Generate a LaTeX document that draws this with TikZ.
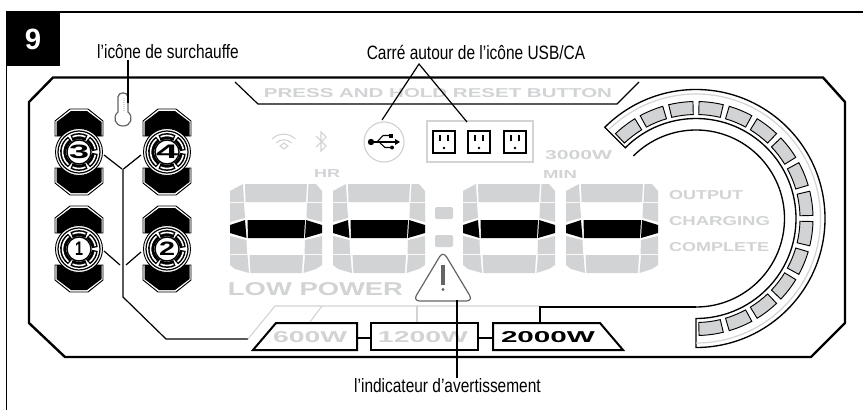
\documentclass[tikz,border=0pt]{standalone}
\usepackage{fontspec}
\setmainfont{Liberation Sans}
\newfontfamily\labelfont[FakeStretch=0.8]{Liberation Sans}
\newfontfamily\lcdfont{Liberation Sans}
\newdimen\unitpx \unitpx=0.75pt
\newcommand{\lcd}[3]{\resizebox{#1\unitpx}{#2\unitpx}{\lcdfont\bfseries #3}}
\definecolor{lcdgray}{RGB}{209,211,212}
\definecolor{iconedge}{RGB}{100,100,100}

\tikzset{every picture/.style={line width=0.75pt}}
\tikzset{
  panelline/.style={line width=1.8pt,line join=miter},
  boxline/.style={line width=1.5pt,line join=miter},
  thinline/.style={line width=0.9pt},
  grayline/.style={line width=0.8pt,draw=lcdgray},
  seglit/.style={fill=lcdgray,draw=none},
  segdark/.style={fill=black,draw=none},
  lcdtext/.style={inner sep=0pt,text=lcdgray},
  caption/.style={inner sep=0pt,font=\labelfont\fontsize{14.5}{16}\selectfont}
}

% one knob with its two caps and the number in the middle
\newcommand{\knob}[4]{%
  \begin{scope}[shift={(#2,#3)}]
    \foreach \s in {1,-1} {
      \draw [line width=0.7pt,fill=white,yscale=\s] (-9,-43) -- (9,-43) -- (24,-31) -- (24,-16) -- (-24,-16) -- (-24,-31) -- cycle ;
      \fill [yscale=\s] (-8,-41) -- (8,-41) -- (22.5,-30) -- (22.5,-16) -- (-22.5,-16) -- (-22.5,-30) -- cycle ;
    }
    \draw [line width=0.7pt,fill=white] (0,0) circle [radius=23.5] ;
    \draw [line width=0.9pt,fill=white] (0,0) circle [radius=21] ;
    \foreach \a/\b in {5/55,62/118,125/235,242/298,305/355} {
      \draw [line width=4.6pt] (\a:15.8) arc [start angle=\a,end angle=\b,radius=15.8] ;
      \draw [line width=1.2pt,draw=white] (\a+5:16.5) arc [start angle=\a+5,end angle=\b-5,radius=16.5] ;
    }
    \draw [line width=1pt,fill=white] (0,0) circle [radius=12] ;
    \node (#1) [inner sep=0pt] at (0,0) {\resizebox{#4\unitpx}{13.5\unitpx}{\bfseries\lcdfont #1}} ;
  \end{scope}
}

% one outlet
\newcommand{\outlet}[1]{%
  \begin{scope}[shift={(#1,142)}]
    \draw [line width=0.9pt,fill=white] (-11,-11) rectangle (11,11) ;
    \draw [line width=1.1pt] (-4,-7) -- (-4,-1) ;
    \draw [line width=1.1pt] (4,-7) -- (4,-1) ;
    \fill (0,6) circle [radius=1.3] ;
  \end{scope}
}

\begin{document}
\begin{tikzpicture}[x=0.75pt,y=0.75pt,yscale=-1,xscale=1]
\useasboundingbox (0,0) rectangle (863,410);

%Frame
\draw [line width=0.8pt]   (863,12) -- (6.5,12) -- (6.5,410) ;
\fill (6,12) rectangle (60,66) ;
\node (nine) [inner sep=0pt,text=white,font=\bfseries\fontsize{22}{22}\selectfont] at (33,39) {9};

%Shape: Panel
\draw [panelline]  (29,102) -- (53,77.5) -- (823,77.5) -- (845,102) -- (845,323) -- (811,357) -- (65,357) -- (29,323) -- cycle ;
%Straight Lines: reset bar
\draw [thinline]  (235,82) -- (258,104) -- (617,104) -- (639,82) ;
\node (reset) [lcdtext] at (438,93) {\lcd{348}{9}{PRESS AND HOLD RESET BUTTON}};

%Knobs
\knob{3}{79}{152}{20}
\knob{4}{167}{152}{22}
\knob{1}{79}{249}{8}
\knob{2}{167}{249}{16}

%Straight Lines: knob wiring
\draw [thinline]  (104,155) -- (122,169) ;
\draw [thinline]  (141,155) -- (123.5,169) ;
\draw [thinline]  (123,169) -- (123,297) -- (166,339) -- (248,339) ;
\draw [thinline]  (104,251) -- (120,265) ;
\draw [thinline]  (141,252) -- (126,265) ;

%Shape: Thermometer
\draw [line width=0.9pt,draw=iconedge,fill=white]  (118,112) -- (118,97) .. controls (118,91.5) and (128,91.5) .. (128,97) -- (128,112) .. controls (134,117) and (131,126) .. (123,126) .. controls (115,126) and (112,117) .. (118,112) -- cycle ;
\draw [line width=1pt,draw=lcdgray,dash pattern={on 0.6pt off 0.9pt}]  (124,98) -- (124,111) ;

%Wifi and bluetooth
\draw [line width=0.8pt,draw=lcdgray] (272,139) arc [start angle=-135,end angle=-45,radius=16.5] ;
\draw [line width=0.8pt,draw=lcdgray] (276,143) arc [start angle=-135,end angle=-45,radius=11] ;
\draw [line width=0.8pt,draw=lcdgray] (280,146) -- (284,143) -- (288,146) -- (284,149) -- cycle ;
\draw [line width=0.8pt,draw=lcdgray] (316,136) -- (326,146) -- (321,151) -- (321,132) -- (326,137) -- (316,147) ;

%USB circle
\draw [line width=0.9pt,draw=lcdgray]  (384,142) circle [radius=20] ;
\fill (371,142) circle [radius=3.2] ;
\draw [line width=0.9pt]  (371,142) -- (396,142) ;
\fill (400,142) -- (395,139) -- (395,145) -- cycle ;
\draw [line width=0.8pt]  (377,142) -- (383,135.5) -- (390,135.5) ;
\fill (389,133.5) rectangle (393,137.5) ;
\draw [line width=0.8pt]  (379,142) -- (385,147.5) -- (391,147.5) ;
\fill (392,147.5) circle [radius=2] ;

%Outlets
\draw [line width=0.9pt,draw=lcdgray]  (427,121) rectangle (533,162) ;
\outlet{444}
\outlet{479}
\outlet{515}

%Texts around the digits
\node (hr) [lcdtext] at (327,173) {\lcd{26}{8}{HR}};
\node (watt) [lcdtext] at (578.5,155) {\lcd{67}{9}{3000W}};
\node (min) [lcdtext] at (560,174) {\lcd{34}{8}{MIN}};
\node (output) [lcdtext] at (706,195) {\lcd{74}{9}{OUTPUT}};
\node (charging) [lcdtext] at (719.5,221) {\lcd{101}{9}{CHARGING}};
\node (complete) [lcdtext] at (719,247) {\lcd{100}{9}{COMPLETE}};
\node (lowpower) [lcdtext] at (315.5,289) {\lcd{175}{13}{LOW POWER}};

%Digits
\foreach \dx in {230,333,463,566} {
  \begin{scope}[shift={(\dx,184)}]
    \fill [seglit] (0,7) -- (13,0) -- (14,18) -- (0,18) -- cycle ;
    \fill [seglit] (15,0) -- (77,0) -- (76,18) -- (15.5,18) -- cycle ;
    \fill [seglit] (78.5,0) -- (86,0) -- (92,7) -- (92,18) -- (77.5,18) -- cycle ;
    \fill [seglit] (0,19) -- (14,19) -- (15,34) -- (0,38) -- cycle ;
    \fill [seglit] (77,19) -- (92,19) -- (92,38) -- (76.5,34) -- cycle ;
    \fill [segdark] (0,41) -- (15,36) -- (16.5,54) -- (0,49) -- cycle ;
    \fill [segdark] (17.5,36) -- (75,36) -- (74,54) -- (18,54) -- cycle ;
    \fill [segdark] (76,36) -- (92,41) -- (92,49) -- (75,54) -- cycle ;
    \fill [seglit] (0,52) -- (16.5,56) -- (17,70) -- (0,70) -- cycle ;
    \fill [seglit] (75,56) -- (92,52) -- (92,70) -- (74.5,70) -- cycle ;
    \fill [seglit] (0,71) -- (17.5,71) -- (19,89) -- (5,85) -- (0,81) -- cycle ;
    \fill [seglit] (19.5,71) -- (73,71) -- (72,89) -- (20.5,89) -- cycle ;
    \fill [seglit] (75,71) -- (92,71) -- (92,81) -- (86,85) -- (73.5,89) -- cycle ;
  \end{scope}
}
%Colon
\fill [seglit,rounded corners=1pt]  (435,207) rectangle (453,219) ;
\fill [seglit,rounded corners=1pt]  (435,235) rectangle (453,247) ;

%Power boxes
\draw [grayline]  (248,339) -- (275,306) -- (540,306) ;
\draw [grayline]  (322,306) -- (310,322) ;
\draw [grayline]  (417,306) -- (417,322) ;
\draw [line width=1pt]  (540,323) -- (540,307) -- (696,307) ;
\draw [boxline,fill=white]  (253,350) -- (276,323) -- (357,323) -- (357,350) -- cycle ;
\draw [boxline,fill=white]  (371,323) -- (478,323) -- (478,350) -- (371,350) -- cycle ;
\draw [boxline,fill=white]  (493,323) -- (600,323) -- (623,350) -- (493,350) -- cycle ;
\draw [boxline]  (357,338) -- (371,338) ;
\draw [boxline]  (478,338) -- (493,338) ;
\node (sixhundred) [lcdtext] at (310,337) {\lcd{74}{11}{600W}};
\node (twelvehundred) [lcdtext] at (423,337) {\lcd{90}{11}{1200W}};
\node (twothousand) [inner sep=0pt] at (548,337) {\lcd{94}{11}{2000W}};

%Output ring
\begin{scope}[shift={(696,218.5)}]
  \draw [line width=1pt]  (90:88.5) arc [start angle=90,end angle=-135,radius=88.5] ;
  \draw [line width=1pt,fill=white]  (90:129) arc [start angle=90,end angle=-135,radius=129] -- (-135:100) arc [start angle=-135,end angle=90,radius=100] -- cycle ;
  \draw [line width=0.9pt,draw=lcdgray]  (90:124.5) arc [start angle=90,end angle=-134,radius=124.5] ;
  \foreach \a in {-135,-120,...,75} {
    \draw [line width=0.7pt,fill=lcdgray]  (\a+1.5:104) arc [start angle=\a+1.5,end angle=\a+13.5,radius=104] -- (\a+13.5:117) arc [start angle=\a+13.5,end angle=\a+1.5,radius=117] -- cycle ;
  }
\end{scope}

%Warning triangle
\draw [line width=0.9pt,draw=iconedge,fill=white,rounded corners=5pt]  (443,251) -- (473,301) -- (413,301) -- cycle ;
\draw [line width=2.4pt,draw=iconedge]  (443,265) -- (443,285) ;
\fill [iconedge] (443,289.5) circle [radius=1.6] ;

%Captions and leaders
\node (surchauffe) [caption] at (168,52) {l’icône de surchauffe};
\node (carre) [caption] at (476,52) {Carré autour de l’icône USB/CA};
\node (indicateur) [caption] at (447.5,386) {l’indicateur d’avertissement};
\coordinate (thermo) at (128,103);
\coordinate (apex) at (419,64);
\coordinate (usb) at (382,120);
\coordinate (prises) at (467,122);
\coordinate (warn) at (457,300);
\draw [thinline]  (surchauffe.south -| thermo) -- (thermo) ;
\draw [thinline]  (usb) -- (apex) -- (prises) ;
\draw [thinline]  (indicateur.north -| warn) -- (warn) ;

\end{tikzpicture}
\end{document}
